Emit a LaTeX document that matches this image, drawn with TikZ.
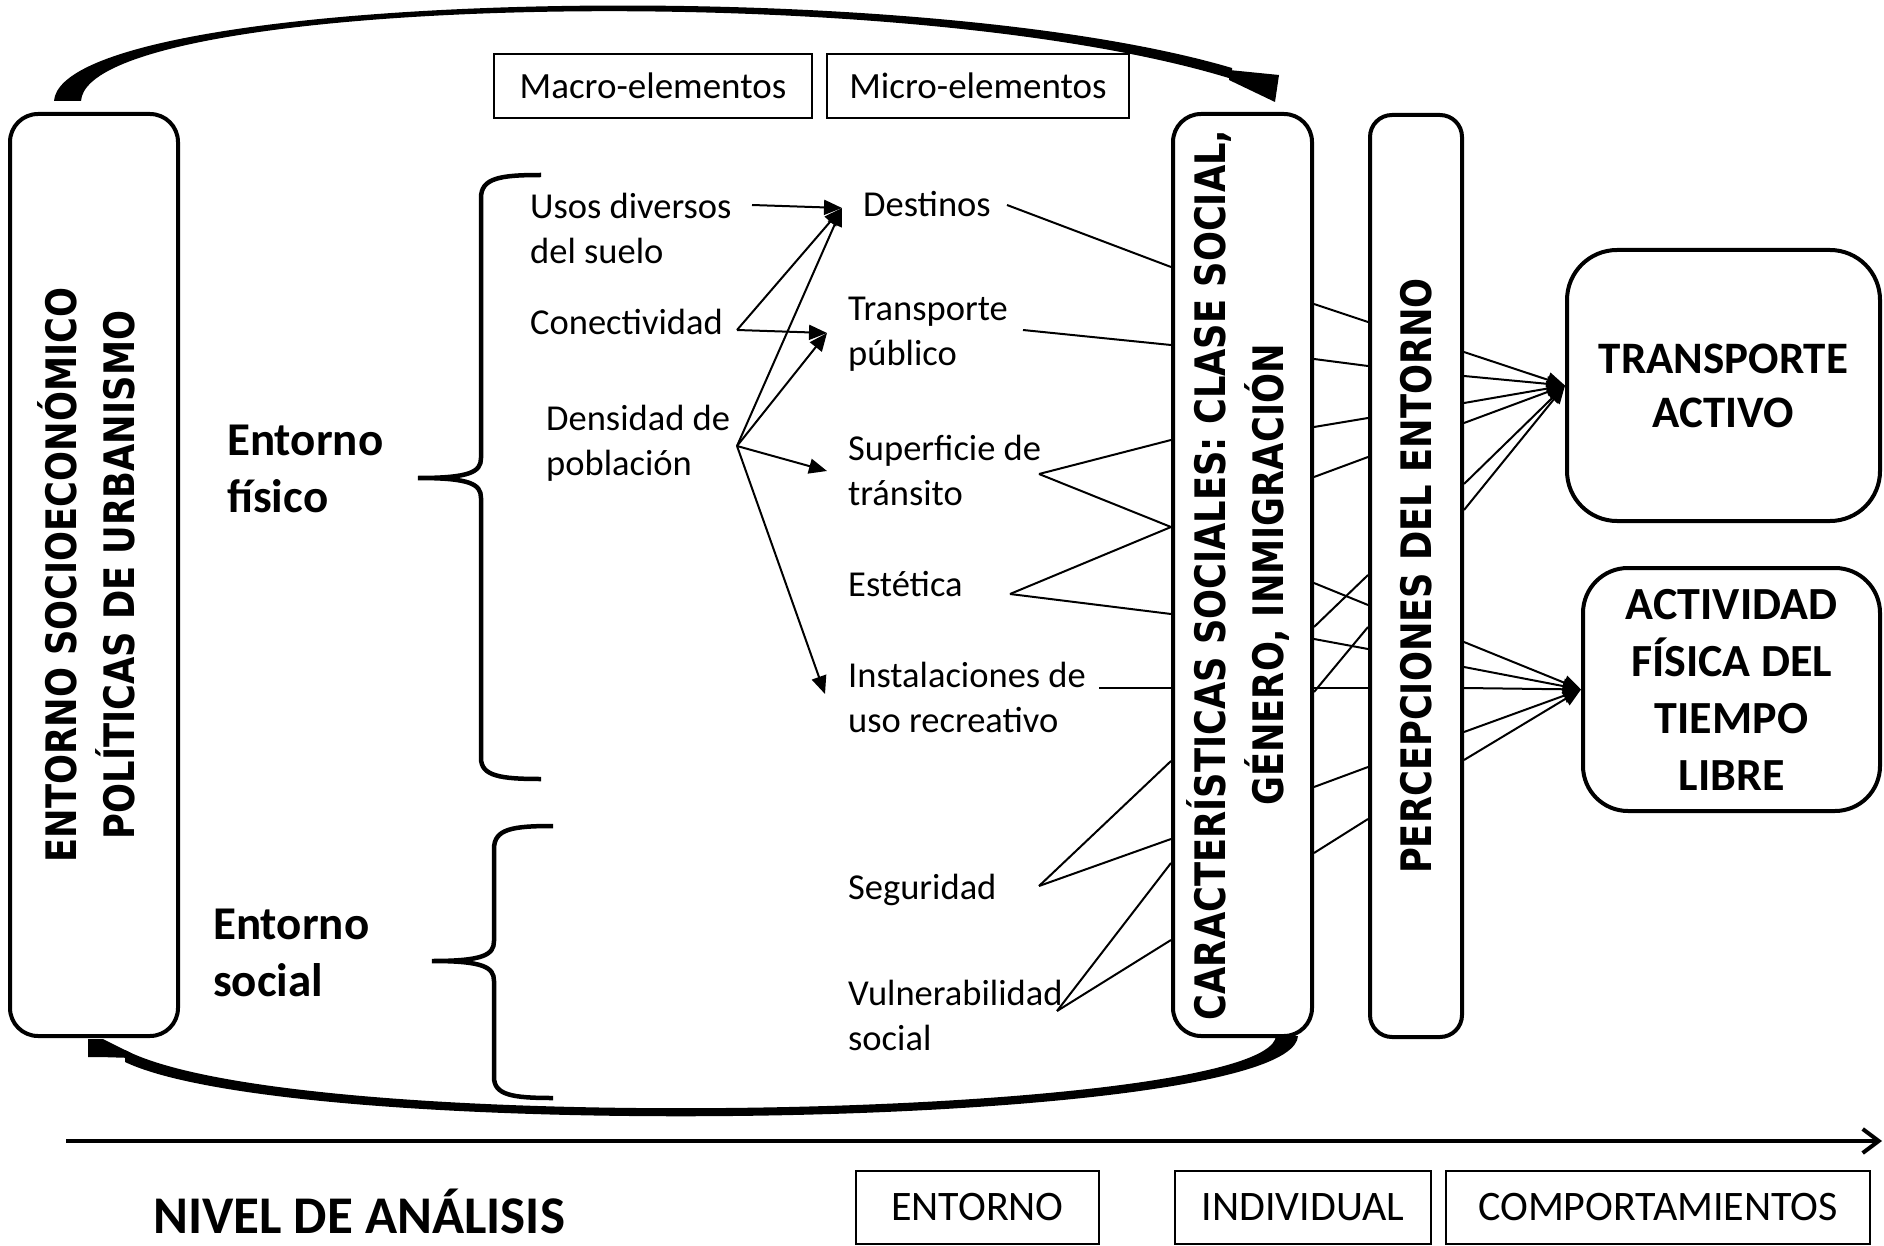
\documentclass[tikz,border=0pt]{standalone}
\usepackage{fontspec}
\setmainfont{Carlito}
\newfontfamily\vertfont{DejaVu Sans}[FakeStretch=0.84]
\usetikzlibrary{arrows.meta}

\begin{document}
\begin{tikzpicture}[x=1pt, y=-1pt,
		every node/.style={inner sep=0pt},
		item/.style={anchor=base west, align=left, font=\fontsize{36.5}{45}\selectfont},
		side/.style={anchor=base west, align=left, font=\bfseries\fontsize{47}{57}\selectfont},
		tagbox/.style={draw, line width=2pt, font=\fontsize{37}{44}\selectfont},
		levelbox/.style={draw, line width=2pt, font=\fontsize{42}{50}\selectfont},
		pillar/.style={draw, line width=4pt, rounded corners=28pt},
		outcome/.style={draw, line width=4pt, rounded corners=50pt, align=center},
		link/.style={line width=2pt},
		arr/.style={link, -{Triangle[length=18pt,width=15pt]}},
		brace/.style={line width=4.5pt}]
			%%%%% START %%%%%
			
			\useasboundingbox (0,0) rectangle (1884,1246);
			
			\node[pillar, minimum width=168pt, minimum height=922pt] (socio) at (94,575) {\rotatebox{90}{\vertfont\bfseries\fontsize{42}{58}\selectfont\begin{tabular}{@{}c@{}}ENTORNO SOCIOECONÓMICO\\POLÍTICAS DE URBANISMO\end{tabular}}};
			\node[pillar, minimum width=139pt, minimum height=922pt] (caract) at (1242.5,575) {\rotatebox{90}{\vertfont\bfseries\fontsize{42}{58}\selectfont\begin{tabular}{@{}c@{}}CARACTERÍSTICAS SOCIALES: CLASE SOCIAL,\\GÉNERO, INMIGRACIÓN\end{tabular}}};
			\node[pillar, rounded corners=22pt, minimum width=92pt, minimum height=922pt] (perc) at (1416,576) {\rotatebox{90}{\vertfont\bfseries\fontsize{42}{58}\selectfont PERCEPCIONES DEL ENTORNO}};
			
			\node[outcome, font=\bfseries\fontsize{45}{54}\selectfont, minimum width=313pt, minimum height=271pt] (ta) at (1723.5,385.5) {TRANSPORTE\\ACTIVO};
			\node[outcome, rounded corners=45pt, font=\bfseries\fontsize{46}{57}\selectfont, minimum width=297pt, minimum height=243pt] (atl) at (1731.5,689.5) {ACTIVIDAD\\FÍSICA DEL\\TIEMPO\\LIBRE};
			
			\node[tagbox, minimum width=318pt, minimum height=64pt] (macro) at (653,86) {Macro-elementos};
			\node[tagbox, minimum width=302pt, minimum height=64pt] (micro) at (978,86) {Micro-elementos};
			
			\node[levelbox, minimum width=243pt, minimum height=73pt] (lvl-env) at (977.5,1207.5) {ENTORNO};
			\node[levelbox, minimum width=256pt, minimum height=73pt] (lvl-ind) at (1303,1207.5) {INDIVIDUAL};
			\node[levelbox, minimum width=424pt, minimum height=73pt] (lvl-beh) at (1658,1207.5) {COMPORTAMIENTOS};
			\node[anchor=base west, font=\bfseries\fontsize{53}{60}\selectfont] (nivel) at (153,1233) {NIVEL DE ANÁLISIS};
			
			\node[side] (fisico) at (227,512) {Entorno\\físico};
			\node[side] (social) at (213,996) {Entorno\\social};
			
			\node[item] (usos) at (530,264) {Usos diversos\\del suelo};
			\node[item] (conec) at (530,335) {Conectividad};
			\node[item] (dens) at (546,475) {Densidad de\\población};
			
			\node[item] (dest) at (863,217) {Destinos};
			\node[item] (transp) at (848,366) {Transporte\\público};
			\node[item] (sup) at (848,505) {Superficie de\\tránsito};
			\node[item] (estet) at (848,596) {Estética};
			\node[item] (instal) at (848,732) {Instalaciones de\\uso recreativo};
			\node[item] (segur) at (848,899) {Seguridad};
			\node[item] (vulner) at (848,1050) {Vulnerabilidad\\social};
			
			\coordinate (usos-out) at (752,205);
			\coordinate (conec-v) at (737,330);
			\coordinate (dens-v) at (737,446);
			\coordinate (dest-in) at (842,208);
			\coordinate (transp-in) at (827,333);
			\coordinate (sup-in) at (827,471);
			\coordinate (instal-in) at (825,694);
			
			\coordinate (dest-out) at (1007,205);
			\coordinate (transp-out) at (1023,330);
			\coordinate (sup-v) at (1039,474);
			\coordinate (estet-v) at (1010,594);
			\coordinate (instal-out) at (1099,688);
			\coordinate (segur-v) at (1039,886);
			\coordinate (vulner-v) at (1057,1011);
			
			\draw[arr] (usos-out) -- (dest-in);
			\draw[arr] (conec-v) -- (dest-in);
			\draw[arr] (conec-v) -- (transp-in);
			\foreach \t in {dest-in,transp-in,sup-in,instal-in}
				\draw[arr] (dens-v) -- (\t);
			
			\draw[link] (dest-out) -- (caract.west |- 0,267);
			\draw[link] (transp-out) -- (caract.west |- 0,345);
			\foreach \y in {440,527}
				\draw[link] (sup-v) -- (caract.west |- 0,\y);
			\foreach \y in {527,614}
				\draw[link] (estet-v) -- (caract.west |- 0,\y);
			\draw[link] (instal-out) -- (caract.west |- 0,688);
			\foreach \y in {761,839}
				\draw[link] (segur-v) -- (caract.west |- 0,\y);
			\foreach \y in {863,940}
				\draw[link] (vulner-v) -- (caract.west |- 0,\y);
			
			\foreach \a/\b in {304/322,359/366,427/418,477/457,583/605,627/575,639/649,692/627,688/688,787/767,853/819}
				\draw[link] (caract.east |- 0,\a) -- (perc.west |- 0,\b);
			
			\foreach \a in {352,376,403,423,484,510}
				\draw[arr] (perc.east |- 0,\a) -- (ta.west);
			\foreach \a in {642,667,688,732,760}
				\draw[arr] (perc.east |- 0,\a) -- (atl.west);
			
			\draw[brace] (541,175) .. controls (500,175) and (481,178) .. (481,198) -- (481,458) .. controls (481,472) and (470,478) .. (418,478) .. controls (470,478) and (481,484) .. (481,498) -- (481,758) .. controls (481,776) and (500,779) .. (541,779);
			\draw[brace] (553,826) .. controls (512,826) and (494,829) .. (494,849) -- (494,941) .. controls (494,955) and (483,961) .. (432,961) .. controls (483,961) and (494,967) .. (494,981) -- (494,1077) .. controls (494,1095) and (512,1098) .. (553,1098);
			
			\fill (54,101) .. controls (62,-8) and (900,-30) .. (1232,68) -- (1232,79) .. controls (900,-24) and (88,-4) .. (81,101) -- cycle;
			\fill (1229,70) -- (1279,75) -- (1275,102) -- (1229,80) -- cycle;
			
			\fill (1298,1036) .. controls (1292,1130) and (300,1145) .. (125,1062) -- (125,1050) .. controls (300,1140) and (1268,1118) .. (1276,1036) -- cycle;
			\fill (88,1039) -- (103,1039) -- (131,1053) -- (133,1058) -- (100,1057) -- (88,1057) -- cycle;
			
			\coordinate (axis-start) at (66,1141);
			\coordinate (axis-end) at (1882,1141);
			\draw[line width=4pt, -{Straight Barb[length=16pt,width=24pt]}] (axis-start) -- (axis-end);
			
			%%%%% END %%%%%
		\end{tikzpicture}
\end{document}
